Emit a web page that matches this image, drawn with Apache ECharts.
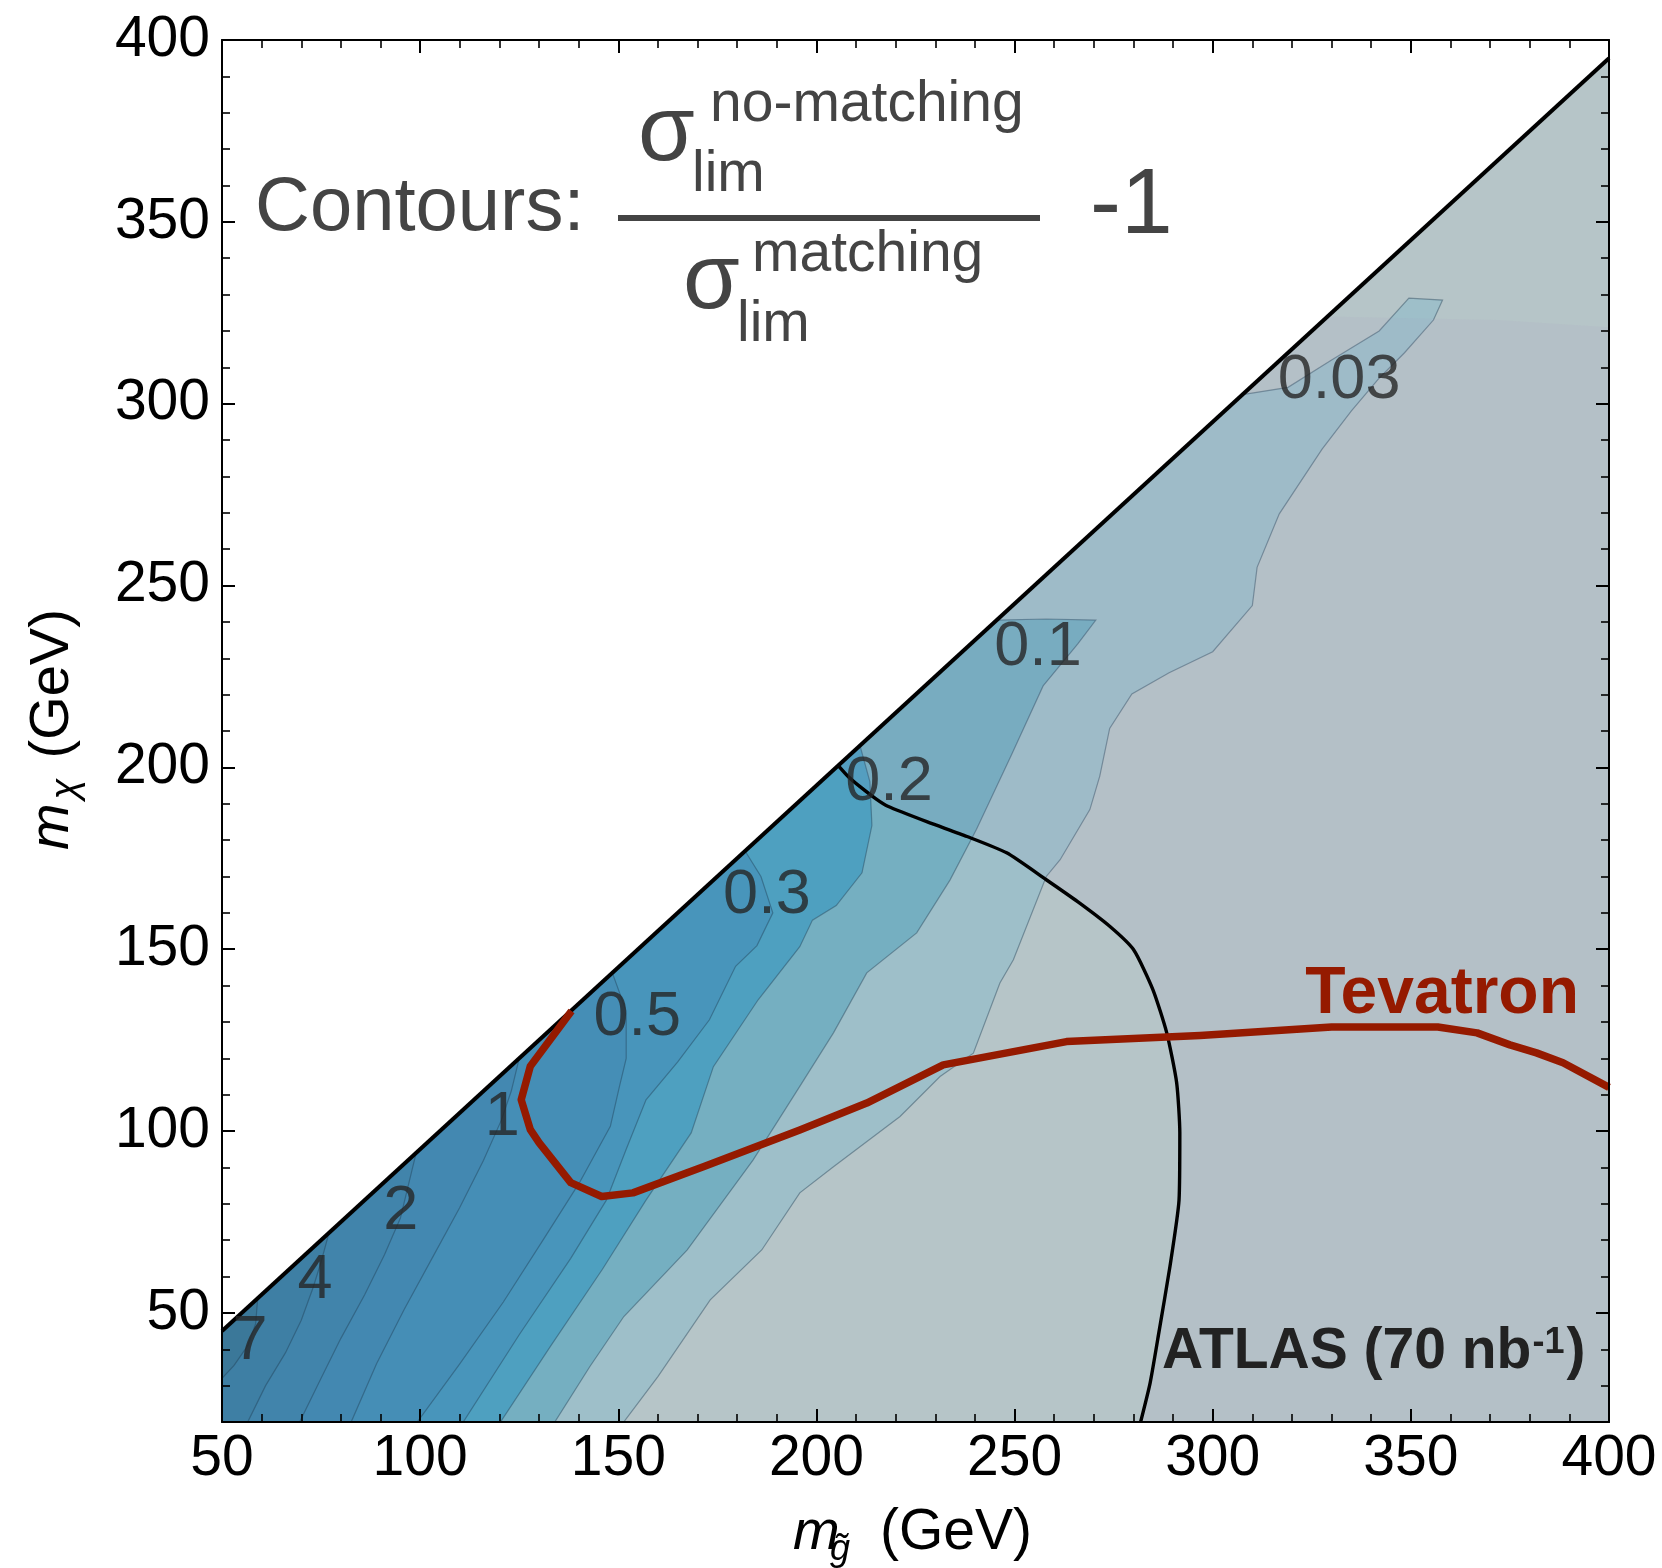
<!DOCTYPE html>
<html>
<head>
<meta charset="utf-8">
<script src="https://cdn.jsdelivr.net/npm/echarts@6/dist/echarts.min.js"></script>
<style>
html,body{margin:0;padding:0;background:#fff;}
#chart{width:1662px;height:1568px;}
</style>
</head>
<body>
<div id="chart"></div>
<script>
// ---- axis ranges and ticks ----
const xRange = [50, 400];
const yRange = [20, 400];
const xMajorTicks = [50, 100, 150, 200, 250, 300, 350, 400];
const yMajorTicks = [50, 100, 150, 200, 250, 300, 350, 400];
const yMinorTicks = [30, 40, 60, 70, 80, 90, 110, 120, 130, 140, 160, 170, 180, 190,
  210, 220, 230, 240, 260, 270, 280, 290, 310, 320, 330, 340, 360, 370, 380, 390];

// ---- kinematic edge m_chi = m_gluino - 5 ----
const kinematicEdge = [[50, 45], [400, 395]];

// ---- contour lines of sigma_nm / sigma_m - 1, from the kinematic edge outwards ----
const contourLevels = ['7', '4', '2', '1', '0.5', '0.3', '0.2', '0.1', '0.03'];
const contour7 = [[59, 54], [58.5, 47], [56.5, 41], [53, 35.5], [50, 32]];
const contour4 = [[77, 72], [75, 64], [73, 57], [70, 48], [66, 39], [61, 30], [56.5, 20]];
const contour2 = [[99, 94], [97, 85], [95, 76], [91, 66], [86, 55], [80, 43], [75, 32], [69.6, 20]];
const contour1 = [[125, 120], [123, 111], [120.5, 103], [116, 92], [110, 79], [103, 65], [96, 51], [89, 36], [82.6, 20]];
const contour05 = [[148.5, 143.5], [152, 133], [152, 120], [150.3, 112.3], [148, 101.3], [140.2, 85.8],
  [131, 70], [121, 53], [110, 36], [99.3, 20]];
const contour03 = [[182, 177], [186, 170], [189, 160], [185, 151], [179.6, 145.3], [173, 130.6], [165, 119],
  [157, 108.6], [152, 95], [147, 81], [138, 65], [125, 44], [110.9, 20]];
const contour02 = [[211, 206], [213.5, 196], [214, 184], [211.5, 171], [205, 162], [199, 158], [195.8, 150.7],
  [185.3, 136.1], [174, 117.7], [168.4, 99.5], [157, 81], [146, 62], [133, 41], [120.3, 20]];
const contour01 = [[245.5, 240.5], [258, 240.8], [270.5, 240.5], [266, 234], [257.2, 222.4], [249.2, 203.4],
  [240.4, 183], [233.7, 169], [225.3, 154.5], [212.7, 143.5], [204.3, 127], [195.8, 112.3], [184, 92],
  [167.4, 67.3], [151.4, 49], [142.8, 35.2], [134, 20]];
const contour003 = [[307.5, 302.5], [319, 304.5], [330, 312], [342, 320], [349.5, 329], [358, 328.5],
  [355.7, 323], [348.4, 314], [342, 307], [335, 298], [327.6, 287.5], [316.8, 269.7], [311.2, 255],
  [310, 244.5], [300, 231.8], [289, 226], [279.6, 220.2], [274, 210.7], [271.5, 197.6], [269, 188.4],
  [261.5, 174.6], [258, 170], [249.7, 147.1], [246.3, 140.7], [239.6, 121.4], [231.2, 115], [221.1, 104],
  [204.3, 90.2], [195.8, 83], [186.2, 67.3], [173.2, 53.6], [160, 32.5], [151.4, 20]];
const contourLines = [contour7, contour4, contour2, contour1, contour05, contour03, contour02, contour01, contour003];

// where each contour value is written
const contourLabelAnchors = [[57.1, 42.2], [73.5, 59], [95.1, 77.9], [120.7, 103.7], [154.8, 131.3],
  [187.5, 164.6], [218.3, 195.8], [255.9, 232.9], [331.9, 306.3]];

// ---- ATLAS (70 nb^-1) limit and the region it covers ----
const atlasLimit = [[205.5, 200.5], [208, 197.5], [211, 194.7], [215.2, 191.2], [218, 189.3], [228, 185],
  [238, 181], [248, 176.5], [258, 169.1], [266, 163], [274, 156.3], [280, 149.9], [284.9, 138.9],
  [288.4, 127], [290.9, 113.3], [291.7, 99.5], [291.5, 81], [289.2, 62.7], [286.4, 44.5], [284.2, 30.7],
  [281.8, 20]];
const atlasRegionTop = [[400, 321], [372, 323], [329, 324]];

// ---- Tevatron limit ----
const tevatronLimit = [[138.2, 133], [127.8, 117.8], [125.5, 108.6], [127.8, 100.4], [130, 96.8], [138, 85.8],
  [145.8, 82], [153.7, 83], [171.8, 90.3], [195.8, 100.3], [212.7, 107.7], [232, 118.2], [263.1, 124.6],
  [296.8, 126.3], [330, 128.6], [356.8, 128.6], [366.7, 127], [375, 123.7], [381.7, 121.5],
  [388.4, 118.8], [400, 112]];

// ---- styling ----
const FONT = "'Liberation Sans', Arial, Helvetica, sans-serif";
const bandColors = ['#3b7899', '#3e7fa4', '#4184ab', '#4388b1', '#458eb6', '#4895bb',
  '#4ea0c0', '#75afc1', '#9ebfc9', '#b6c5c8'];
const contourStroke = 'rgba(30,60,80,0.42)';

const kinY = x => kinematicEdge[0][1] + (x - kinematicEdge[0][0]) *
  (kinematicEdge[1][1] - kinematicEdge[0][1]) / (kinematicEdge[1][0] - kinematicEdge[0][0]);

// polygon of the region beyond a contour (lower values), closed along the frame
function regionBeyond(line) {
  const pts = line.slice();
  const end = line[line.length - 1];
  if (end[0] <= xRange[0] + 1e-6) pts.push([xRange[0], yRange[0]]);
  pts.push([xRange[1], yRange[0]], [xRange[1], kinY(xRange[1])]);
  return pts;
}
const domainOutline = [[xRange[0], yRange[0]], [xRange[1], yRange[0]], [xRange[1], kinY(xRange[1])],
  [xRange[0], kinY(xRange[0])]];

function renderBand(params, api) {
  const i = api.value(2);
  const pts = i === 0 ? domainOutline : regionBeyond(contourLines[i - 1]);
  return {
    type: 'polygon',
    z2: i,
    shape: { points: pts.map(p => api.coord(p)) },
    style: { fill: bandColors[i], stroke: i === 0 ? null : contourStroke, lineWidth: 1.2 }
  };
}
function renderAtlasRegion(params, api) {
  const pts = atlasLimit.concat([[xRange[1], yRange[0]]], atlasRegionTop);
  return {
    type: 'polygon',
    shape: { points: pts.map(p => api.coord(p)) },
    style: { fill: 'rgba(172,140,185,0.08)' }
  };
}

function measure(text, font) {
  const c = document.createElement('canvas').getContext('2d');
  c.font = font;
  return c.measureText(text).width;
}

const axisCommon = {
  type: 'value',
  z: 10,
  splitLine: { show: false },
  minorSplitLine: { show: false },
  axisLine: { show: true, onZero: false, lineStyle: { color: '#000', width: 2 } }
};
const tickStyle = { color: '#000', width: 2 };

const xAxes = [
  Object.assign({}, axisCommon, {
    position: 'bottom', min: xRange[0], max: xRange[1], interval: 50,
    axisTick: { inside: true, length: 13, lineStyle: tickStyle },
    minorTick: { show: true, splitNumber: 5, length: 8, lineStyle: { color: '#000', width: 1.6 } },
    axisLabel: { fontSize: 57, fontFamily: FONT, color: '#000', margin: 9 }
  }),
  Object.assign({}, axisCommon, {
    position: 'top', min: xRange[0], max: xRange[1], interval: 50,
    axisTick: { inside: true, length: 13, lineStyle: tickStyle },
    minorTick: { show: true, splitNumber: 5, length: 8, lineStyle: { color: '#000', width: 1.6 } },
    axisLabel: { show: false }
  })
];
function yAxisPair(side, withLabels) {
  return [
    Object.assign({}, axisCommon, {
      position: side, min: yRange[0], max: yRange[1],
      axisTick: { inside: true, length: 8, customValues: yMinorTicks, lineStyle: { color: '#000', width: 1.6 } },
      axisLabel: { show: false }
    }),
    Object.assign({}, axisCommon, {
      position: side, min: yRange[0], max: yRange[1],
      axisLine: { show: false },
      axisTick: { inside: true, length: 13, customValues: yMajorTicks, lineStyle: tickStyle },
      axisLabel: withLabels
        ? { show: true, customValues: yMajorTicks, fontSize: 57, fontFamily: FONT, color: '#000', margin: 12 }
        : { show: false }
    })
  ];
}
const yAxes = yAxisPair('left', true).concat(yAxisPair('right', false));

// ---- annotation text ----
const atlasMain = 'ATLAS (70 nb';
const atlasFont = `bold 57px ${FONT}`;
const atlasSupFont = `bold 36px ${FONT}`;
const atlasX = 1162;
const atlasW1 = measure(atlasMain, atlasFont);
const atlasW2 = measure('-1', atlasSupFont);

const mid = (baseline, fs) => baseline - 0.3465 * fs;

const graphics = [
  { type: 'text', x: 255, y: mid(235, 76), z: 20,
    style: { text: 'Contours:', font: `76px ${FONT}`, fill: '#444', align: 'left', verticalAlign: 'middle' } },
  { type: 'text', x: 638, y: mid(167, 92), z: 20,
    style: { text: 'σ', font: `92px ${FONT}`, fill: '#444', align: 'left', verticalAlign: 'middle' } },
  { type: 'text', x: 710, y: mid(125, 57), z: 20,
    style: { text: 'no-matching', font: `57px ${FONT}`, fill: '#444', align: 'left', verticalAlign: 'middle' } },
  { type: 'text', x: 692, y: mid(195, 57), z: 20,
    style: { text: 'lim', font: `57px ${FONT}`, fill: '#444', align: 'left', verticalAlign: 'middle' } },
  { type: 'rect', z: 20, shape: { x: 618, y: 215, width: 422, height: 6 }, style: { fill: '#444' } },
  { type: 'text', x: 1090, y: mid(240, 93), z: 20,
    style: { text: '-1', font: `93px ${FONT}`, fill: '#444', align: 'left', verticalAlign: 'middle' } },
  { type: 'text', x: 683, y: mid(315, 92), z: 20,
    style: { text: 'σ', font: `92px ${FONT}`, fill: '#444', align: 'left', verticalAlign: 'middle' } },
  { type: 'text', x: 752, y: mid(275, 57), z: 20,
    style: { text: 'matching', font: `57px ${FONT}`, fill: '#444', align: 'left', verticalAlign: 'middle' } },
  { type: 'text', x: 737, y: mid(345, 57), z: 20,
    style: { text: 'lim', font: `57px ${FONT}`, fill: '#444', align: 'left', verticalAlign: 'middle' } },

  // Tevatron and ATLAS tags
  { type: 'text', x: 1579, y: mid(1018, 66), z: 20,
    style: { text: 'Tevatron', font: `bold 66px ${FONT}`, fill: '#951a00', align: 'right', verticalAlign: 'middle' } },
  { type: 'text', x: atlasX, y: mid(1372, 57), z: 20,
    style: { text: atlasMain, font: atlasFont, fill: '#222', align: 'left', verticalAlign: 'middle' } },
  { type: 'text', x: atlasX + atlasW1 + 1, y: mid(1356, 36), z: 20,
    style: { text: '-1', font: atlasSupFont, fill: '#222', align: 'left', verticalAlign: 'middle' } },
  { type: 'text', x: atlasX + atlasW1 + atlasW2 + 3, y: mid(1372, 57), z: 20,
    style: { text: ')', font: atlasFont, fill: '#222', align: 'left', verticalAlign: 'middle' } },

  // x-axis title: m_g~ (GeV)
  { type: 'text', x: 793, y: mid(1553, 56), z: 20,
    style: { text: 'm', font: `italic 56px ${FONT}`, fill: '#000', align: 'left', verticalAlign: 'middle' } },
  { type: 'text', x: 830, y: mid(1562, 36), z: 20,
    style: { text: 'g\u0303', font: `italic 36px ${FONT}`, fill: '#000', align: 'left', verticalAlign: 'middle' } },
  { type: 'text', x: 880, y: mid(1553, 57), z: 20,
    style: { text: '(GeV)', font: `57px ${FONT}`, fill: '#000', align: 'left', verticalAlign: 'middle' } },

  // y-axis title: m_chi (GeV), reading upwards
  { type: 'group', x: 72, y: 731.5, rotation: Math.PI / 2, z: 20, children: [
    { type: 'text', x: -118.5, y: mid(0, 56),
      style: { text: 'm', font: `italic 56px ${FONT}`, fill: '#000', align: 'left', verticalAlign: 'middle' } },
    { type: 'text', x: -68, y: mid(8, 38),
      style: { text: 'χ', font: `italic 38px ${FONT}`, fill: '#000', align: 'left', verticalAlign: 'middle' } },
    { type: 'text', x: -27, y: mid(0, 56),
      style: { text: '(GeV)', font: `56px ${FONT}`, fill: '#000', align: 'left', verticalAlign: 'middle' } }
  ] }
];

const option = {
  animation: false,
  backgroundColor: '#ffffff',
  grid: { left: 222, right: 53, top: 40, bottom: 146, containLabel: false, outerBoundsMode: 'none' },
  xAxis: xAxes,
  yAxis: yAxes,
  series: [
    {
      name: 'contour bands', type: 'custom', renderItem: renderBand, z: 1,
      data: bandColors.map((c, i) => [xRange[1], yRange[0], i]),
      encode: { x: 0, y: 1 }, silent: true
    },
    {
      name: 'ATLAS region', type: 'custom', renderItem: renderAtlasRegion, z: 2,
      data: [[xRange[1], yRange[0], 0]], encode: { x: 0, y: 1 }, silent: true
    },
    {
      name: 'kinematic edge', type: 'line', data: kinematicEdge, symbol: 'none', z: 5,
      lineStyle: { color: '#000', width: 4 }
    },
    {
      name: 'ATLAS', type: 'line', data: atlasLimit, symbol: 'none', z: 5, smooth: 0.2,
      lineStyle: { color: '#000', width: 3.4 }
    },
    {
      name: 'Tevatron', type: 'line', data: tevatronLimit, symbol: 'none', z: 6,
      lineStyle: { color: '#951a00', width: 7.5, join: 'round' }
    },
    {
      name: 'contour labels', type: 'scatter', z: 8, symbolSize: 1,
      itemStyle: { color: 'rgba(0,0,0,0)' },
      data: contourLabelAnchors.map((p, i) => ({ value: p, name: contourLevels[i] })),
      label: { show: true, position: 'inside', formatter: '{b}', fontSize: 63, fontFamily: FONT, color: '#262626' }
    }
  ],
  graphic: graphics
};

const chart = echarts.init(document.getElementById('chart'), null, { renderer: 'canvas' });
chart.setOption(option);
</script>
</body>
</html>
